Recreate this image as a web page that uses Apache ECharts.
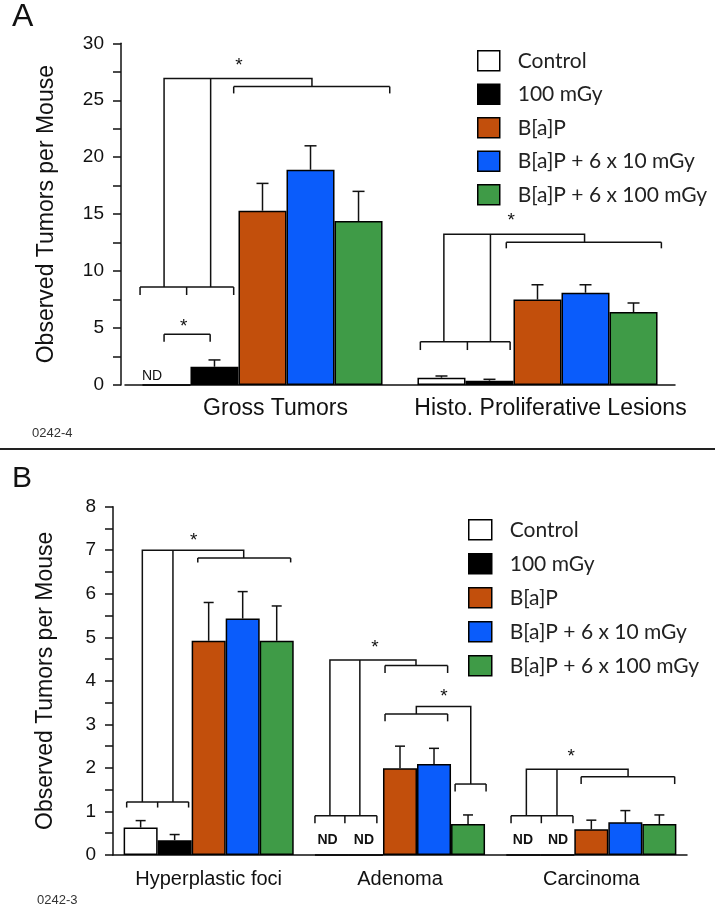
<!DOCTYPE html>
<html>
<head>
<meta charset="utf-8">
<title>Observed Tumors per Mouse</title>
<script src="https://cdn.jsdelivr.net/npm/echarts@6/dist/echarts.min.js"></script>
<style>
    html, body { margin: 0; padding: 0; background: #fff; }
    #chart { width: 715px; height: 907px; }
</style>
</head>
<body>
<div id="chart"></div>
<script>
// treatment groups
const groupNames = ['Control', '100 mGy', 'B[a]P', 'B[a]P + 6 x 10 mGy', 'B[a]P + 6 x 100 mGy'];
const groupColors = ['#ffffff', '#000000', '#c24f0c', '#0a5cfb', '#3f9b47'];

// panel A
const categoriesA = ['Gross Tumors', 'Histo. Proliferative Lesions'];
const controlA = [0, 0.64];
const mGy100A = [1.6, 0.38];
const bapA = [15.3, 7.5];
const bap10A = [18.9, 8.1];
const bap100A = [14.4, 6.4];
// upper error bars (null = not drawn)
const controlErrA = [null, 0.15];
const mGy100ErrA = [0.6, 0.12];
const bapErrA = [2.4, 1.3];
const bap10ErrA = [2.1, 0.7];
const bap100ErrA = [2.6, 0.8];

// panel B
const categoriesB = ['Hyperplastic foci', 'Adenoma', 'Carcinoma'];
const controlB = [0.63, 0, 0];
const mGy100B = [0.34, 0, 0];
const bapB = [4.92, 1.99, 0.59];
const bap10B = [5.43, 2.09, 0.75];
const bap100B = [4.92, 0.71, 0.71];
const controlErrB = [0.16, null, null];
const mGy100ErrB = [0.13, null, null];
const bapErrB = [0.88, 0.51, 0.21];
const bap10ErrB = [0.62, 0.36, 0.27];
const bap100ErrB = [0.8, 0.21, 0.21];

// significance brackets: [category, bar slots, level, tick end]
// bar slots: 0..4 = bar centres inside a category group
const bracketsA = [
    [0, [-0.55, 0.42, 1.4], 8.6, 7.9],
    [0, [1.4, 4.65], 26.2, 25.6],
    [0, [-0.05, 0.91], 4.45, 3.8],
    [1, [-0.44, 0.54, 1.43], 3.8, 3.07],
    [1, [1.35, 4.58], 12.53, 12.0]
];
const linksA = [
    [0, [[-0.05, 8.6], [-0.05, 26.9], [3.03, 26.9], [3.03, 26.2]]],
    [0, [[0.92, 8.6], [0.92, 26.9]]],
    [1, [[0.05, 3.8], [0.05, 13.23], [2.98, 13.23], [2.98, 12.53]]],
    [1, [[1.02, 3.8], [1.02, 13.23]]]
];
const starsA = [[0, 1.51, 28.4], [0, 0.36, 5.5], [1, 1.45, 14.8]];
const ndA = [[0, -0.3, 0.82]];

const bracketsB = [
    [0, [-0.41, 0.5, 1.41], 1.22, 1.09],
    [0, [1.68, 4.41], 6.82, 6.72],
    [1, [-0.5, 0.38, 1.32], 0.9, 0.73],
    [1, [1.56, 3.4], 4.35, 4.18],
    [1, [1.56, 3.4], 3.24, 3.07],
    [1, [3.62, 4.53], 1.63, 1.46],
    [2, [-0.36, 0.53, 1.46], 0.9, 0.73],
    [2, [1.7, 4.45], 1.8, 1.63]
];
const linksB = [
    [0, [[0.05, 1.22], [0.05, 7.0], [3.03, 7.0], [3.03, 6.82]]],
    [0, [[0.95, 1.22], [0.95, 7.0]]],
    [1, [[-0.06, 0.9], [-0.06, 4.48], [2.47, 4.48], [2.47, 4.35]]],
    [1, [[0.82, 0.9], [0.82, 4.48]]],
    [1, [[2.48, 3.24], [2.48, 3.41], [4.08, 3.41], [4.08, 1.63]]],
    [2, [[0.09, 0.9], [0.09, 1.97], [3.08, 1.97], [3.08, 1.8]]],
    [2, [[0.99, 0.9], [0.99, 1.97]]]
];
const starsB = [[0, 1.56, 7.32], [1, 1.26, 4.85], [1, 3.29, 3.72], [2, 1.41, 2.34]];
const ndB = [[1, -0.13, 0.34], [1, 0.94, 0.34], [2, -0.01, 0.34], [2, 1.02, 0.34]];

const FONT = '"Liberation Sans", Arial, sans-serif';
const INK = '#111';
const LINE = {stroke: INK, lineWidth: 1.5, fill: null};
const gapA = 0.127;
const gapB = 0.111;

// x pixel of a bar slot inside a category
function slotX(api, cat, slot, gap) {
    let center = api.coord([cat, 0])[0];
    let band = api.size([1, 0])[0];
    return center + (slot - 2) * band * (1 - gap) / 5;
}

function makeBars(values, axis, gap) {
    return values.map((arr, s) => ({
        name: groupNames[s],
        type: 'bar',
        xAxisIndex: axis,
        yAxisIndex: axis,
        data: arr,
        barGap: '0%',
        barCategoryGap: (gap * 100) + '%',
        itemStyle: {color: groupColors[s], borderColor: '#000', borderWidth: 1.5},
        emphasis: {disabled: true}
    }));
}

function makeErrors(values, errors, axis, gap, cap) {
    let data = [];
    values.forEach((arr, s) => {
        arr.forEach((v, c) => {
            if (errors[s][c] != null) data.push([c, s, v, errors[s][c]]);
        });
    });
    return {
        type: 'custom',
        xAxisIndex: axis,
        yAxisIndex: axis,
        z: 5,
        data: data,
        encode: {x: 0, y: 2},
        renderItem: function (params, api) {
            let c = api.value(0), s = api.value(1), v = api.value(2), e = api.value(3);
            let x = slotX(api, c, s, gap);
            let y0 = api.coord([c, v])[1];
            let y1 = api.coord([c, v + e])[1];
            return {
                type: 'group',
                children: [
                    {type: 'line', shape: {x1: x, y1: y0, x2: x, y2: y1}, style: LINE},
                    {type: 'line', shape: {x1: x - cap, y1: y1, x2: x + cap, y2: y1}, style: LINE}
                ]
            };
        }
    };
}

// brackets, stars and ND labels of one panel
function makeNotes(brackets, links, stars, nds, axis, gap, ndFont) {
    return {
        type: 'custom',
        xAxisIndex: axis,
        yAxisIndex: axis,
        z: 6,
        data: [[0, 0]],
        renderItem: function (params, api) {
            let kids = [];
            let pt = (c, s, y) => [slotX(api, c, s, gap), api.coord([c, y])[1]];
            brackets.forEach(b => {
                let c = b[0], slots = b[1], y = b[2], yt = b[3];
                kids.push({type: 'polyline', shape: {points: [pt(c, slots[0], y), pt(c, slots[slots.length - 1], y)]}, style: LINE});
                slots.forEach(s => {
                    kids.push({type: 'polyline', shape: {points: [pt(c, s, y), pt(c, s, yt)]}, style: LINE});
                });
            });
            links.forEach(l => {
                kids.push({type: 'polyline', shape: {points: l[1].map(p => pt(l[0], p[0], p[1]))}, style: LINE});
            });
            stars.forEach(st => {
                let p = pt(st[0], st[1], st[2]);
                kids.push({
                    type: 'text', x: p[0], y: p[1] + 4,
                    style: {text: '*', font: '19px ' + FONT, fill: INK, align: 'center', verticalAlign: 'middle'}
                });
            });
            nds.forEach(n => {
                let p = pt(n[0], n[1], n[2]);
                kids.push({
                    type: 'text', x: p[0], y: p[1],
                    style: {text: 'ND', font: ndFont, fill: INK, align: 'center', verticalAlign: 'middle'}
                });
            });
            return {type: 'group', children: kids};
        }
    };
}

function makeXAxis(grid, cats, fontSize, margin, shift) {
    return {
        gridIndex: grid,
        type: 'category',
        data: cats,
        axisLine: {lineStyle: {color: INK, width: 1.5}},
        axisTick: {alignWithLabel: true, length: 6, lineStyle: {color: INK, width: 1.5}},
        axisLabel: {
            interval: 0,
            hideOverlap: false,
            fontFamily: FONT, fontSize: fontSize, color: INK, margin: margin,
            padding: [0, 0, 0, shift]
        }
    };
}

function makeYAxis(grid, max, offset, nameGap) {
    return {
        gridIndex: grid,
        type: 'value',
        min: 0,
        max: max,
        interval: max === 30 ? 5 : 1,
        offset: offset,
        splitLine: {show: false},
        axisLine: {show: true, lineStyle: {color: INK, width: 1.5}},
        axisTick: {show: true, length: 8, lineStyle: {color: INK, width: 1.5}},
        minorTick: {show: true, splitNumber: 2, length: 8, lineStyle: {color: INK, width: 1.5}},
        axisLabel: {fontFamily: FONT, fontSize: 19, color: INK, margin: 17},
        name: 'Observed Tumors per Mouse',
        nameLocation: 'middle',
        nameGap: nameGap,
        nameTextStyle: {fontFamily: FONT, fontSize: 23, color: INK}
    };
}

function makeLegend(left, top, gap, iconW) {
    return {
        data: groupNames,
        orient: 'vertical',
        left: left,
        top: top,
        padding: 0,
        itemWidth: iconW,
        itemHeight: 20,
        itemGap: gap,
        icon: 'rect',
        selectedMode: false,
        itemStyle: {borderColor: '#000', borderWidth: 1.5},
        textStyle: {fontFamily: 'Lato', fontSize: 21, color: '#222', padding: [0, 0, 0, 13]}
    };
}

const valuesA = [controlA, mGy100A, bapA, bap10A, bap100A];
const errorsA = [controlErrA, mGy100ErrA, bapErrA, bap10ErrA, bap100ErrA];
const valuesB = [controlB, mGy100B, bapB, bap10B, bap100B];
const errorsB = [controlErrB, mGy100ErrB, bapErrB, bap10ErrB, bap100ErrB];

const chart = echarts.init(document.getElementById('chart'));

let option = {
    animation: false,
    backgroundColor: '#fff',
    grid: [
        {left: 125, top: 43.3, width: 550, height: 341.7},
        {left: 113, top: 506.7, width: 574, height: 348.3}
    ],
    xAxis: [
        makeXAxis(0, categoriesA, 23, 12, 26),
        makeXAxis(1, categoriesB, 20, 14, 0)
    ],
    yAxis: [
        makeYAxis(0, 30, 4, 63),
        makeYAxis(1, 8, 0, 56)
    ],
    legend: [
        makeLegend(477, 50, 12, 22),
        makeLegend(468, 519, 12.5, 23)
    ],
    graphic: [
        {type: 'text', left: 12, top: 1, style: {text: 'A', font: '32px ' + FONT, fill: INK}},
        {type: 'text', left: 12, top: 464, style: {text: 'B', font: '30px ' + FONT, fill: INK}},
        {type: 'text', left: 32, top: 427, style: {text: '0242-4', font: '13px ' + FONT, fill: '#333'}},
        {type: 'text', left: 37, top: 894, style: {text: '0242-3', font: '13px ' + FONT, fill: '#333'}},
        {type: 'line', shape: {x1: 0, y1: 449, x2: 715, y2: 449}, style: {stroke: '#222', lineWidth: 2}}
    ],
    series: [].concat(
        makeBars(valuesA, 0, gapA),
        makeBars(valuesB, 1, gapB),
        [
            makeErrors(valuesA, errorsA, 0, gapA, 6),
            makeErrors(valuesB, errorsB, 1, gapB, 5),
            makeNotes(bracketsA, linksA, starsA, ndA, 0, gapA, '14px ' + FONT),
            makeNotes(bracketsB, linksB, starsB, ndB, 1, gapB, 'bold 14px ' + FONT)
        ]
    )
};

chart.setOption(option);
</script>
</body>
</html>
